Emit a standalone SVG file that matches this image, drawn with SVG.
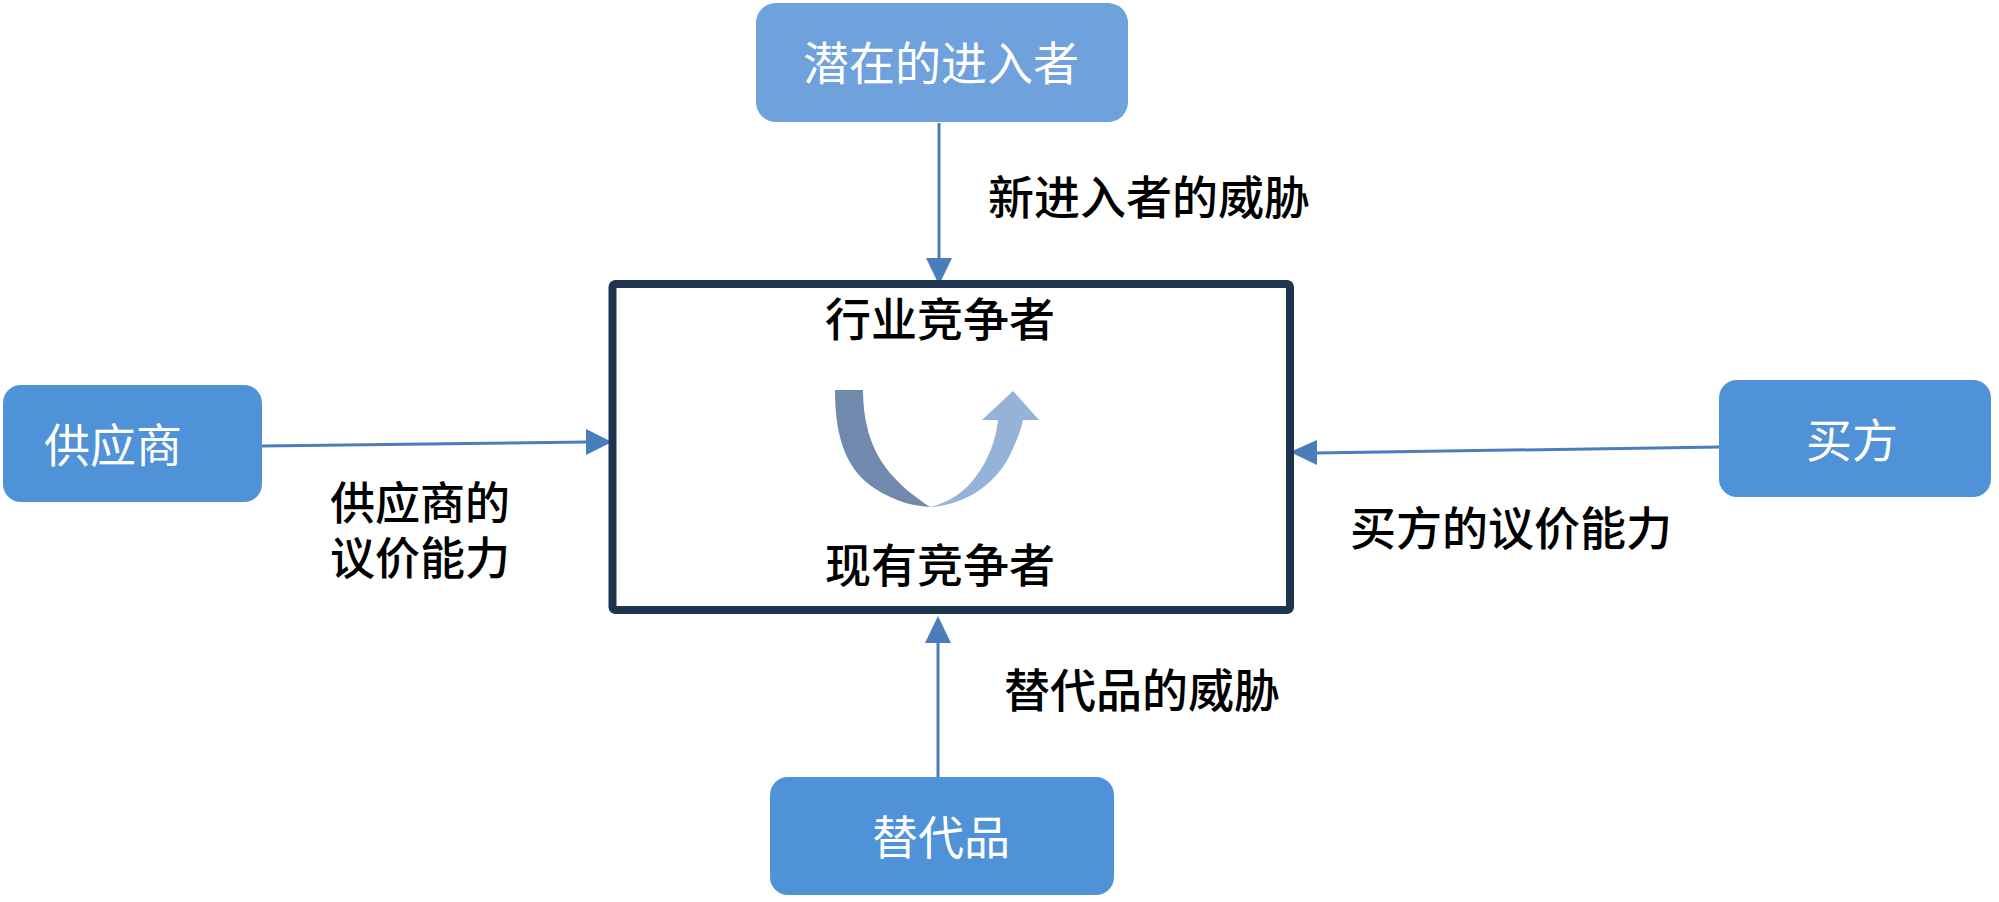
<svg xmlns="http://www.w3.org/2000/svg" width="1999" height="902" viewBox="0 0 1999 902">
<style>
.node{fill:#4f92d8;}
.node-top{fill:#6fa1dd;}
.ntext{font-family:"Noto Sans CJK SC","Noto Sans",sans-serif;font-size:46px;fill:#ffffff;text-anchor:middle;}
.label{font-family:"Noto Sans CJK SC","Noto Sans",sans-serif;font-size:46px;fill:#000000;font-weight:500;}
.label2{font-family:"Noto Sans CJK SC","Noto Sans",sans-serif;font-size:45px;fill:#000000;font-weight:500;}
.conn{stroke:#4a7ebb;stroke-width:3;fill:none;}
.head{fill:#4a7ebb;}
</style>
<rect width="1999" height="902" fill="#ffffff"/>
<g id="connectors">
<line class="conn" x1="939" y1="123" x2="939" y2="260"/>
<polygon class="head" points="926,258 952,258 939,285"/>
<line class="conn" x1="938" y1="777" x2="938" y2="641"/>
<polygon class="head" points="925,643 951,643 938,616"/>
<line class="conn" x1="262" y1="446" x2="588" y2="442"/>
<polygon class="head" points="586,429 586,455 612,442"/>
<line class="conn" x1="1720" y1="447" x2="1315" y2="453"/>
<polygon class="head" points="1317,440 1317,465 1290,452"/>
</g>
<g id="competitors">
<rect x="612.5" y="284" width="677.5" height="326" rx="3" fill="#ffffff" stroke="#1e3550" stroke-width="8"/>
<text class="label" x="940" y="336" text-anchor="middle">行业竞争者</text>
<text class="label" x="940" y="582" text-anchor="middle">现有竞争者</text>
<path d="M835,390 C835,430 843,462 866,482 C887,499 910,506 930,507 C915,497 899,485 886,468 C870,447 863,420 863,390 Z" fill="#7189ad"/>
<path d="M930,507 C965,505 995,485 1010,455 C1017,440 1021,430 1023,420 L1039,420 L1013,391 L982,420 L998,420 C996,440 988,460 977,475 C965,492 950,502 930,507 Z" fill="#95b2d8"/>
</g>
<g id="entrants">
<rect class="node-top" x="756" y="3" width="372" height="119" rx="20"/>
<text class="ntext" x="941" y="80">潜在的进入者</text>
</g>
<g id="suppliers">
<rect class="node" x="3" y="385" width="259" height="117" rx="18"/>
<text class="ntext" x="113" y="462">供应商</text>
</g>
<g id="buyers">
<rect class="node" x="1719" y="380" width="272" height="117" rx="18"/>
<text class="ntext" x="1852" y="457">买方</text>
</g>
<g id="substitutes">
<rect class="node" x="770" y="777" width="344" height="118" rx="18"/>
<text class="ntext" x="941" y="854">替代品</text>
</g>
<g id="labels">
<text class="label" x="988" y="214">新进入者的威胁</text>
<text class="label2" x="330" y="520"><tspan x="330" y="520">供应商的</tspan><tspan x="330" y="575">议价能力</tspan></text>
<text class="label" x="1350" y="545">买方的议价能力</text>
<text class="label" x="1004" y="707">替代品的威胁</text>
</g>
</svg>
